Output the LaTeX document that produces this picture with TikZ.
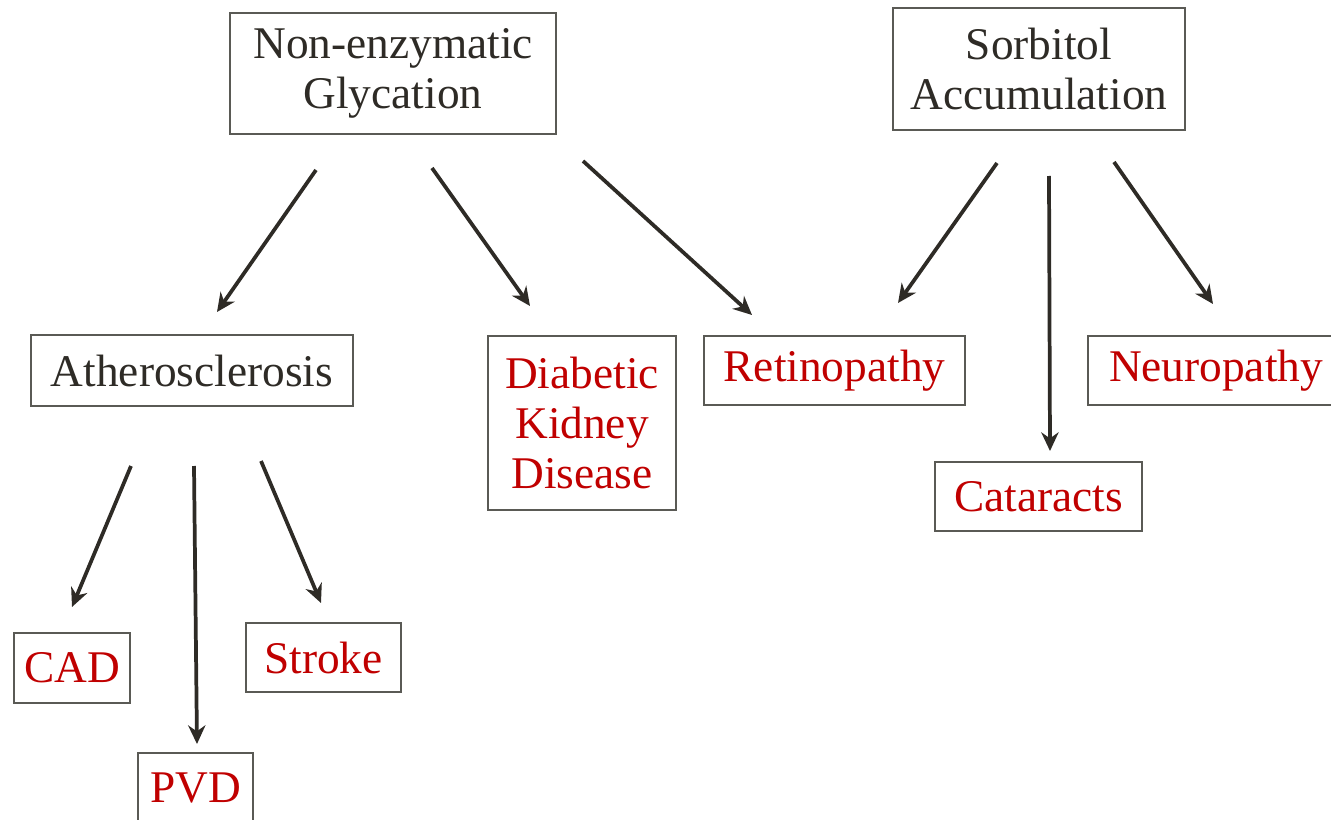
\documentclass[tikz,border=0pt]{standalone}
\usepackage{fontspec}
\setmainfont{Liberation Serif}
\usetikzlibrary{arrows.meta,positioning}
\definecolor{darkred}{HTML}{C00000}
\definecolor{inkgray}{HTML}{2E2B26}
\definecolor{framegray}{HTML}{5A5A55}
\tikzset{
  cause/.style={draw=framegray,line width=1.3pt,inner sep=0pt,align=center,
    text=inkgray,font=\fontsize{34}{37.5}\selectfont},
  effect/.style={cause,text=darkred},
  link/.style={-{Stealth[length=14pt,width=13pt]},line width=2.8pt,draw=inkgray},
}

\begin{document}
\begin{tikzpicture}[x=0.75pt,y=-0.75pt]
  \useasboundingbox (0,0) rectangle (1331,820);
  \clip (0,0) rectangle (1331,820);
  % two mechanisms
  \node[cause,minimum width=244.5pt,minimum height=90.75pt] (glycation) at (393,73.5) {Non-enzymatic\\Glycation};
  \node[cause,minimum width=219pt,minimum height=91.5pt] (sorbitol) at (1039,69) {Sorbitol\\Accumulation};
  % consequences
  \node[cause,minimum width=241.5pt,minimum height=53.25pt] (athero) at (192,370.5) {Atherosclerosis};
  \node[effect,minimum width=141pt,minimum height=130.5pt] (kidney) at (582,423) {Diabetic\\Kidney\\Disease};
  \node[effect,minimum width=195.75pt,minimum height=51.75pt] (retino) at (834.5,370.5) {Retinopathy};
  \node[effect,minimum width=192pt,minimum height=51.75pt] (neuro) at (1216,370.5) {Neuropathy};
  \node[effect,minimum width=155.25pt,minimum height=51.75pt] (cataract) at (1038.5,496.5) {Cataracts};
  \node[effect,minimum width=87pt,minimum height=52.5pt] (cad) at (72,668) {CAD};
  \node[effect,minimum width=116.25pt,minimum height=51.75pt] (stroke) at (323.5,657.5) {Stroke};
  \node[effect,minimum width=86.25pt,minimum height=52.5pt] (pvd) at (195.5,788) {PVD};
  % arrow ends (the arrows stand free of the boxes)
  \coordinate (glyA) at (316,170);  \coordinate (atheroIn) at (217,312);
  \coordinate (glyB) at (432,168);  \coordinate (kidneyIn) at (530,306);
  \coordinate (glyC) at (583,161);  \coordinate (retinoInL) at (752,315);
  \coordinate (sorA) at (997,163);  \coordinate (retinoInR) at (898,303);
  \coordinate (sorB) at (1049,176); \coordinate (cataractIn) at (1050,451);
  \coordinate (sorC) at (1114,162); \coordinate (neuroIn) at (1213,304);
  \coordinate (athA) at (131,466);  \coordinate (cadIn) at (72,607);
  \coordinate (athB) at (194,466);  \coordinate (pvdIn) at (197,744);
  \coordinate (athC) at (261,461);  \coordinate (strokeIn) at (321,603);
  \draw[link] (glyA) -- (atheroIn); % glycation -> atherosclerosis
  \draw[link] (glyB) -- (kidneyIn); % glycation -> kidney disease
  \draw[link] (glyC) -- (retinoInL); % glycation -> retinopathy
  \draw[link] (sorA) -- (retinoInR); % sorbitol -> retinopathy
  \draw[link] (sorB) -- (cataractIn); % sorbitol -> cataracts
  \draw[link] (sorC) -- (neuroIn); % sorbitol -> neuropathy
  \draw[link] (athA) -- (cadIn); % atherosclerosis -> CAD
  \draw[link] (athB) -- (pvdIn); % atherosclerosis -> PVD
  \draw[link] (athC) -- (strokeIn); % atherosclerosis -> stroke
\end{tikzpicture}
\end{document}
